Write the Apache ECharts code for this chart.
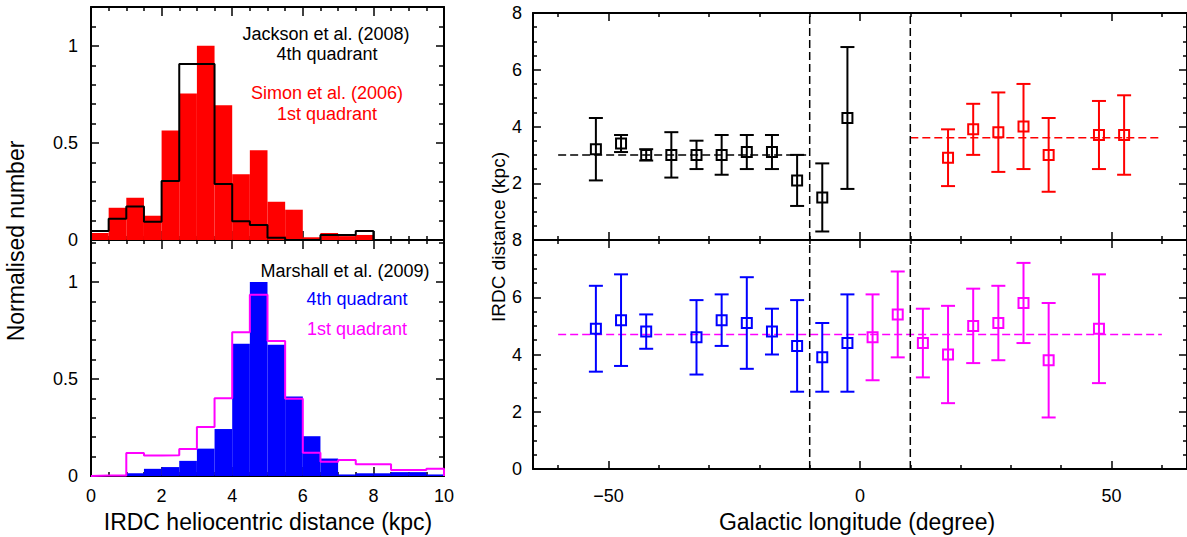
<!DOCTYPE html>
<html><head><meta charset="utf-8">
<script src="https://cdn.jsdelivr.net/npm/echarts@6/dist/echarts.min.js"></script>
<style>html,body{margin:0;padding:0;background:#fff}#c{width:1187px;height:537px}</style>
</head><body><div id="c"></div>
<script>
// ---------------- DATA ----------------
const binWidth = 0.5;
// Top-left histogram (bins of 0.5 kpc starting at 0)
const simon1st = [0.036,0.166,0.217,0.125,0.564,0.754,1.0,0.694,0.338,0.462,0.197,0.156,0.014,0.036,0.020,0.026];
const jackson4th = [0.046,0.109,0.173,0.094,0.304,0.906,0.906,0.289,0.096,0.077,0.012,0,0,0.026,0.026,0.046];
// Bottom-left histogram
const marshall4th = [0,0,0.014,0.037,0.046,0.078,0.141,0.242,0.681,1.0,0.676,0.410,0.205,0.090,0.008,0.014,0.014,0.020,0.020,0.008];
const marshall1st = [0.003,0.003,0.119,0.105,0.107,0.139,0.253,0.400,0.741,0.934,0.695,0.398,0.120,0.073,0.083,0.061,0.061,0.031,0.031,0.037];

// Top-right: Jackson (4th quadrant, black) and Simon (1st quadrant, red)
const jLon  = [-52.5,-47.5,-42.5,-37.5,-32.5,-27.5,-22.5,-17.5,-12.5,-7.5,-2.5];
const jDist = [3.2,3.4,3.0,3.0,3.0,3.0,3.1,3.1,2.1,1.5,4.3];
const jLow  = [2.1,3.1,2.8,2.2,2.5,2.3,2.5,2.5,1.2,0.3,1.8];
const jHigh = [4.3,3.7,3.2,3.8,3.5,3.7,3.7,3.7,3.0,2.7,6.8];
const sLon  = [17.5,22.5,27.5,32.5,37.5,47.5,52.5];
const sDist = [2.9,3.9,3.8,4.0,3.0,3.7,3.7];
const sLow  = [1.9,3.0,2.4,2.5,1.7,2.5,2.3];
const sHigh = [3.9,4.8,5.2,5.5,4.3,4.9,5.1];
// Bottom-right: Marshall 4th (blue) and 1st (magenta)
const m4Lon  = [-52.5,-47.5,-42.5,-32.5,-27.5,-22.5,-17.5,-12.5,-7.5,-2.5];
const m4Dist = [4.9,5.2,4.8,4.6,5.2,5.1,4.8,4.3,3.9,4.4];
const m4Low  = [3.4,3.6,4.2,3.3,4.3,3.5,4.0,2.7,2.7,2.7];
const m4High = [6.4,6.8,5.4,5.9,6.1,6.7,5.6,5.9,5.1,6.1];
const m1Lon  = [2.5,7.5,12.5,17.5,22.5,27.5,32.5,37.5,47.5];
const m1Dist = [4.6,5.4,4.4,4.0,5.0,5.1,5.8,3.8,4.9];
const m1Low  = [3.1,3.9,3.2,2.3,3.7,3.8,4.4,1.8,3.0];
const m1High = [6.1,6.9,5.6,5.7,6.3,6.4,7.2,5.8,6.8];
// Mean lines
const jMean = {y:3.0, from:-60, to:-10};
const sMean = {y:3.6, from:10, to:60};
const mMean = {y:4.7, from:-60, to:60};
const dividers = [-10, 10];

// Tick values
const histXMajor = [0,2,4,6,8,10];
const histXMinor = [0.5,1,1.5,2.5,3,3.5,4.5,5,5.5,6.5,7,7.5,8.5,9,9.5];
const histYMajor = [0,0.5,1];
const histYMinor = [0.1,0.2,0.3,0.4,0.6,0.7,0.8,0.9,1.1,1.2];
const lonMajor = [-50,0,50];
const lonMinor = [-60,-40,-30,-20,-10,10,20,30,40,60];
const distMajor = [0,2,4,6,8];
const distMinor = [0.5,1,1.5,2.5,3,3.5,4.5,5,5.5,6.5,7,7.5];

// ---------------- HELPERS ----------------
const FONT = 'Liberation Sans';
const xAxes = [], yAxes = [];
function addAxes(list, gi, pos, mirrorPos, min, max, majors, minors, labels, fmt, margin, majLen, minLen) {
  const base = {type:'value', gridIndex:gi, min, max, splitLine:{show:false}};
  const mk = (position, line, vals, len, lab) => ({
    ...base, position,
    axisLine:{show:line, onZero:false, lineStyle:{color:'#000', width:2}},
    axisTick:{show:true, inside:true, length:len, customValues:vals, lineStyle:{color:'#000', width:1.5}},
    axisLabel:{show:!!lab, customValues: lab || vals, formatter:fmt, margin, fontSize:18, color:'#000', fontFamily:FONT}
  });
  const idx = list.length;
  list.push(mk(pos, true, majors, majLen, labels));
  list.push(mk(pos, false, minors, minLen, null));
  list.push(mk(mirrorPos, true, majors, majLen, null));
  list.push(mk(mirrorPos, false, minors, minLen, null));
  return idx;
}
const num = v => String(v);
const lonFmt = v => (v < 0 ? '\u2212' + Math.abs(v) : String(v));

const grids = [
  {left:91, top:7, width:353, height:233},
  {left:91, top:240, width:353, height:236},
  {left:533, top:13, width:655, height:227},
  {left:533, top:240, width:655, height:229}
];
const gx = [], gy = [];
gx[0] = addAxes(xAxes, 0, 'bottom', 'top', 0, 10, histXMajor, histXMinor, null, num, 12, 9, 4);
gy[0] = addAxes(yAxes, 0, 'left', 'right', 0, 1.2, histYMajor, histYMinor, [0,0.5,1], num, 13, 8, 5);
gx[1] = addAxes(xAxes, 1, 'bottom', 'top', 0, 10, histXMajor, histXMinor, histXMajor, num, 11, 9, 4);
gy[1] = addAxes(yAxes, 1, 'left', 'right', 0, 1.216, histYMajor, histYMinor, [0,0.5,1], num, 13, 8, 5);
gx[2] = addAxes(xAxes, 2, 'bottom', 'top', -65, 65, lonMajor, lonMinor, null, lonFmt, 18, 8, 4);
gy[2] = addAxes(yAxes, 2, 'left', 'right', 0, 8, distMajor, distMinor, [2,4,6,8], num, 11, 8, 4);
gx[3] = addAxes(xAxes, 3, 'bottom', 'top', -65, 65, lonMajor, lonMinor, lonMajor, lonFmt, 18, 8, 4);
gy[3] = addAxes(yAxes, 3, 'left', 'right', 0, 8, distMajor, distMinor, distMajor, num, 11, 8, 4);

function histBars(values, gi, color) {
  return {
    type:'custom', xAxisIndex:gx[gi], yAxisIndex:gy[gi], z:2,
    data: values.map((v,i)=>[i*binWidth, v]),
    renderItem:(p, api)=>{
      const a = api.coord([api.value(0), api.value(1)]);
      const b = api.coord([api.value(0)+binWidth, 0]);
      return {type:'rect', shape:{x:a[0], y:a[1], width:b[0]-a[0], height:b[1]-a[1]}, style:{fill:color}};
    }
  };
}
function stepLine(values, gi, color) {
  const pts = [[0,0]];
  values.forEach((v,i)=>{ pts.push([i*binWidth, v]); pts.push([(i+1)*binWidth, v]); });
  pts.push([values.length*binWidth, 0]);
  return {type:'line', xAxisIndex:gx[gi], yAxisIndex:gy[gi], z:3, data:pts, symbol:'none', silent:true,
    lineStyle:{color, width:2}, clip:true};
}
function errSeries(lon, dist, lo, hi, gi, color) {
  return {
    type:'custom', xAxisIndex:gx[gi], yAxisIndex:gy[gi], z:5,
    data: lon.map((x,i)=>[x, dist[i], lo[i], hi[i]]),
    encode:{x:0, y:1},
    renderItem:(p, api)=>{
      const x = api.value(0);
      const c = api.coord([x, api.value(1)]);
      const t = api.coord([x, api.value(3)]);
      const b = api.coord([x, api.value(2)]);
      const cw = 7, s = 5;
      const st = {stroke:color, lineWidth:2, fill:null};
      return {type:'group', children:[
        {type:'line', shape:{x1:t[0], y1:t[1], x2:b[0], y2:b[1]}, style:st},
        {type:'line', shape:{x1:t[0]-cw, y1:t[1], x2:t[0]+cw, y2:t[1]}, style:st},
        {type:'line', shape:{x1:b[0]-cw, y1:b[1], x2:b[0]+cw, y2:b[1]}, style:st},
        {type:'rect', shape:{x:c[0]-s, y:c[1]-s, width:2*s, height:2*s}, style:{stroke:color, lineWidth:2, fill:'none'}}
      ]};
    }
  };
}
function dashLine(pts, gi, color) {
  return {type:'line', xAxisIndex:gx[gi], yAxisIndex:gy[gi], z:4, data:pts, symbol:'none', silent:true,
    lineStyle:{color, width:1.5, type:[8,4]}};
}

const series = [
  histBars(simon1st, 0, '#ff0000'),
  stepLine(jackson4th, 0, '#000000'),
  histBars(marshall4th, 1, '#0000ff'),
  stepLine(marshall1st, 1, '#ff00ff'),
  dashLine([[jMean.from, jMean.y],[jMean.to, jMean.y]], 2, '#000'),
  dashLine([[sMean.from, sMean.y],[sMean.to, sMean.y]], 2, '#ff0000'),
  dashLine([[mMean.from, mMean.y],[mMean.to, mMean.y]], 3, '#ff00ff'),
];
[2,3].forEach(gi => dividers.forEach(d => series.push(dashLine([[d,0],[d,8]], gi, '#000'))));
series.push(errSeries(jLon, jDist, jLow, jHigh, 2, '#000000'));
series.push(errSeries(sLon, sDist, sLow, sHigh, 2, '#ff0000'));
series.push(errSeries(m4Lon, m4Dist, m4Low, m4High, 3, '#0000ff'));
series.push(errSeries(m1Lon, m1Dist, m1Low, m1High, 3, '#ff00ff'));

const txt = (text, x, y, color, size, rot) => ({
  type:'text', x, y, rotation: rot||0,
  style:{text, fill:color, font:`${size}px "${FONT}"`, textAlign:'center', textVerticalAlign:'middle'}
});
const graphic = [
  txt('Jackson et al. (2008)', 326, 34, '#000', 18),
  txt('4th quadrant', 327, 54, '#000', 18),
  txt('Simon et al. (2006)', 327, 93, '#ff0000', 18),
  txt('1st quadrant', 327, 114, '#ff0000', 18),
  txt('Marshall et al. (2009)', 345, 271, '#000', 18),
  txt('4th quadrant', 357, 299, '#0000ff', 18),
  txt('1st quadrant', 357, 329, '#ff00ff', 18),
  txt('Normalised number', 16, 241, '#000', 23, Math.PI/2),
  txt('IRDC distance (kpc)', 498, 237, '#000', 19, Math.PI/2),
  txt('IRDC heliocentric distance (kpc)', 268, 522, '#000', 23),
  txt('Galactic longitude (degree)', 857, 522, '#000', 23)
];

const chart = echarts.init(document.getElementById('c'), null, {renderer:'svg'});
chart.setOption({animation:false, backgroundColor:'#fff', grid:grids, xAxis:xAxes, yAxis:yAxes, series, graphic});
</script></body></html>
